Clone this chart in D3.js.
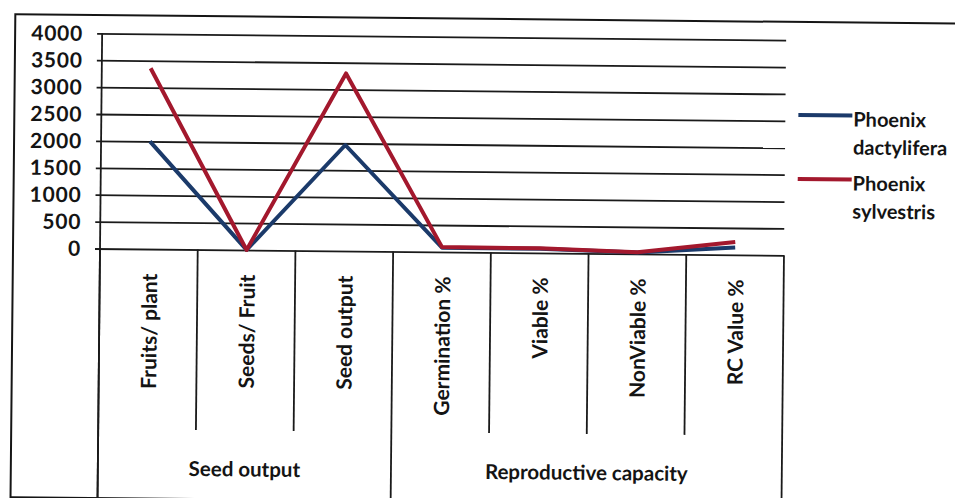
<!DOCTYPE html>
<html>
<head>
<meta charset="utf-8">
<script src="https://cdn.jsdelivr.net/npm/d3@7/dist/d3.min.js"></script>
<style>
  html, body { margin: 0; padding: 0; background: #fff; }
  svg { display: block; }
  text { font-family: Lato, "Open Sans", sans-serif; fill: #141414; }
</style>
</head>
<body>
<svg id="chart" width="955" height="498"></svg>
<script>
// Categories, grouped under two headings
const categories = ["Fruits/ plant", "Seeds/ Fruit", "Seed output",
  "Germination %", "Viable %", "NonViable %", "RC Value %"];
const groups = [
  { name: "Seed output", from: 0, to: 3 },
  { name: "Reproductive capacity", from: 3, to: 7 }
];

// Series values
const dactylifera = [2000, 1, 1970, 80, 78, 25, 135];
const sylvestris  = [3360, 1, 3300, 90, 85, 30, 240];

const seriesNames  = ["Phoenix dactylifera", "Phoenix sylvestris"];
const seriesColors = ["#1b3a6a", "#a3182d"];

// Value axis ticks
const yTicks = [0, 500, 1000, 1500, 2000, 2500, 3000, 3500, 4000];

const svg = d3.select("#chart");
// The whole sheet sits very slightly askew
const root = svg.append("g").attr("transform", "rotate(0.57, 95, 249)");

const x = d3.scaleBand().domain(categories).range([100, 784]).padding(0);
const y = d3.scaleLinear().domain([0, 4000]).range([248.5, 33.3]);

// Outer frame
root.append("rect")
  .attr("x", 13).attr("y", 15).attr("width", 990).attr("height", 483)
  .attr("fill", "none").attr("stroke", "#151515").attr("stroke-width", 2);

// Gridlines and tick labels
const yAxis = d3.axisLeft(y).tickValues(yTicks).tickSize(-(784 - 95))
  .tickFormat(d3.format("d"));
const yg = root.append("g").attr("transform", "translate(95,0)").call(yAxis);
yg.select(".domain").remove();
yg.selectAll(".tick line").attr("stroke", "#1a1a1a").attr("stroke-width", 1.8);
yg.selectAll(".tick text")
  .attr("x", -14)
  .attr("dy", "0.34em")
  .style("font-size", "21px").style("font-weight", 700)
  .style("letter-spacing", "0.8px")
  .style("font-family", "Lato, sans-serif").attr("fill", "#141414");

// Vertical axis line, running down through the category table
root.append("line")
  .attr("x1", 100).attr("x2", 100).attr("y1", y(4000)).attr("y2", 498)
  .attr("stroke", "#1a1a1a").attr("stroke-width", 1.8);

// Category table: inner separators stop above the group row,
// group boundaries run to the bottom
const bounds = d3.range(categories.length + 1).map(i =>
  i < categories.length ? x(categories[i]) : x.range()[1]);
bounds.forEach((bx, i) => {
  const isGroupEdge = groups.some(g => g.from === i || g.to === i);
  root.append("line")
    .attr("x1", bx).attr("x2", bx)
    .attr("y1", y(0)).attr("y2", isGroupEdge ? 498 : 429)
    .attr("stroke", "#1a1a1a").attr("stroke-width", 1.8);
});

// Category labels, vertical
root.append("g").selectAll("text").data(categories).join("text")
  .attr("transform", d => `translate(${x(d) + x.bandwidth() / 2 + 1},273) rotate(-90)`)
  .attr("text-anchor", "end")
  .attr("dy", "0.36em")
  .style("font-size", "21px").style("font-weight", 700)
  .text(d => d);

// Group labels
root.append("g").selectAll("text").data(groups).join("text")
  .attr("x", g => (bounds[g.from] + bounds[g.to]) / 2)
  .attr("y", 475)
  .attr("text-anchor", "middle")
  .style("font-size", "20.5px").style("font-weight", 700)
  .text(g => g.name);

// Series lines
const line = d3.line()
  .x((d, i) => x(categories[i]) + x.bandwidth() / 2)
  .y(d => y(d));

[dactylifera, sylvestris].forEach((vals, k) => {
  root.append("path")
    .datum(vals)
    .attr("d", line)
    .attr("fill", "none")
    .attr("stroke", seriesColors[k])
    .attr("stroke-width", 4)
    .attr("stroke-linejoin", "round");
});

// Legend
const legendRows = [108, 172];
seriesNames.forEach((name, k) => {
  const ly = legendRows[k];
  root.append("line")
    .attr("x1", 797).attr("x2", 851).attr("y1", ly).attr("y2", ly)
    .attr("stroke", seriesColors[k]).attr("stroke-width", 4);
  const words = name.split(" ");
  const t = root.append("text")
    .attr("x", 852).attr("y", ly + 11)
    .style("font-size", "20px").style("font-weight", 700);
  t.append("tspan").attr("x", 852).text(words[0]);
  t.append("tspan").attr("x", 852).attr("dy", 28).text(words[1]);
});
</script>
</body>
</html>
